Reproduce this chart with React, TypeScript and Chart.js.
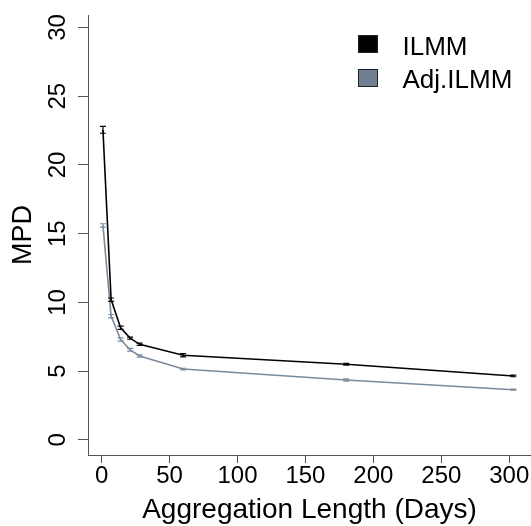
import React, { useEffect, useRef } from "react";
import { Chart, registerables } from "chart.js";

Chart.register(...registerables);

// ---- data ----
const days = [1, 7, 14, 21, 28, 60, 180, 303];
const ilmm = [22.55, 10.2, 8.15, 7.4, 6.95, 6.15, 5.5, 4.65];
const ilmmErr = [0.25, 0.12, 0.12, 0.08, 0.08, 0.12, 0.06, 0.06];
const adjIlmm = [15.6, 9.0, 7.3, 6.55, 6.1, 5.15, 4.35, 3.65];
const adjIlmmErr = [0.12, 0.12, 0.12, 0.1, 0.08, 0.06, 0.08, 0.04];
const xTicks = [0, 50, 100, 150, 200, 250, 300];
const yTicks = [0, 5, 10, 15, 20, 25, 30];
const seriesNames = ["ILMM", "Adj.ILMM"];
const xTitle = "Aggregation Length (Days)";
const yTitle = "MPD";

const FONT = "'Liberation Sans', Arial, sans-serif";
const ILMM_COLOR = "#000000";
const ADJ_COLOR = "#7b8b9b";
const ADJ_FILL = "#6f7f8f";

const errorBarPlugin = {
  id: "errorBars",
  afterDatasetsDraw(chart: any) {
    const ctx = chart.ctx;
    const xs = chart.scales.x;
    const ys = chart.scales.y;
    ctx.save();
    chart.data.datasets.forEach((ds: any) => {
      const errs: number[] = ds.errors || [];
      ctx.strokeStyle = ds.borderColor;
      ctx.lineWidth = 1.2;
      ds.data.forEach((p: any, i: number) => {
        const e = errs[i] || 0;
        const x = xs.getPixelForValue(p.x);
        const yTop = ys.getPixelForValue(p.y + e);
        const yBot = ys.getPixelForValue(p.y - e);
        ctx.beginPath();
        ctx.moveTo(x, yTop);
        ctx.lineTo(x, yBot);
        ctx.moveTo(x - 3, yTop);
        ctx.lineTo(x + 3, yTop);
        ctx.moveTo(x - 3, yBot);
        ctx.lineTo(x + 3, yBot);
        ctx.stroke();
      });
    });
    ctx.restore();
  },
};

const boxLegendPlugin = {
  id: "boxLegend",
  afterDraw(chart: any) {
    const ctx = chart.ctx;
    ctx.save();
    const boxX = 358;
    const tops = [35, 69];
    const baselines = [55, 88];
    chart.data.datasets.forEach((ds: any, i: number) => {
      ctx.fillStyle = ds.legendFill;
      ctx.fillRect(boxX, tops[i], 20, 18);
      ctx.strokeStyle = "#222";
      ctx.lineWidth = 1;
      ctx.strokeRect(boxX + 0.5, tops[i] + 0.5, 19, 17);
      ctx.fillStyle = "#000";
      ctx.font = `26px ${FONT}`;
      ctx.textBaseline = "alphabetic";
      ctx.textAlign = "left";
      ctx.fillText(ds.label, 402.5, baselines[i]);
    });
    ctx.restore();
  },
};

export default function App() {
  const ref = useRef<HTMLCanvasElement | null>(null);

  useEffect(() => {
    if (!ref.current) return;
    const chart = new Chart(ref.current, {
      type: "line",
      data: {
        datasets: [
          {
            label: seriesNames[0],
            data: days.map((d, i) => ({ x: d, y: ilmm[i] })),
            borderColor: ILMM_COLOR,
            backgroundColor: ILMM_COLOR,
            borderWidth: 1.6,
            pointRadius: 0,
            tension: 0,
            errors: ilmmErr,
            legendFill: ILMM_COLOR,
          } as any,
          {
            label: seriesNames[1],
            data: days.map((d, i) => ({ x: d, y: adjIlmm[i] })),
            borderColor: ADJ_COLOR,
            backgroundColor: ADJ_COLOR,
            borderWidth: 1.6,
            pointRadius: 0,
            tension: 0,
            errors: adjIlmmErr,
            legendFill: ADJ_FILL,
          } as any,
        ],
      },
      options: {
        responsive: false,
        animation: false,
        devicePixelRatio: 1,
        layout: { padding: { top: 15, left: 0, right: 0, bottom: 0 } },
        plugins: {
          legend: { display: false },
          tooltip: { enabled: false },
        },
        scales: {
          x: {
            type: "linear",
            min: -10,
            max: 316,
            afterBuildTicks: (scale: any) => {
              scale.ticks = xTicks.map((v) => ({ value: v }));
            },
            afterFit: (scale: any) => {
              scale.height = 71;
              scale.paddingLeft = 0;
              scale.paddingRight = 0;
              scale.paddingTop = 0;
              scale.paddingBottom = 0;
            },
            grid: {
              display: true,
              drawOnChartArea: false,
              drawTicks: true,
              tickLength: 8,
              color: "#555",
              lineWidth: 1,
            },
            border: { display: true, color: "#555", width: 1 },
            ticks: {
              color: "#000",
              padding: 1,
              maxRotation: 0,
              minRotation: 0,
              autoSkip: false,
              font: { family: FONT, size: 24, lineHeight: 1 },
            },
            title: {
              display: true,
              text: xTitle,
              color: "#000",
              font: { family: FONT, size: 28, lineHeight: 1 },
              padding: { top: 0, bottom: 2 },
            },
          },
          y: {
            type: "linear",
            min: -1.1,
            max: 30.9,
            afterBuildTicks: (scale: any) => {
              scale.ticks = yTicks.map((v) => ({ value: v }));
            },
            afterFit: (scale: any) => {
              scale.width = 88;
              scale.paddingLeft = 0;
              scale.paddingRight = 0;
              scale.paddingTop = 0;
              scale.paddingBottom = 0;
            },
            grid: {
              display: true,
              drawOnChartArea: false,
              drawTicks: true,
              tickLength: 10,
              color: "#555",
              lineWidth: 1,
            },
            border: { display: true, color: "#555", width: 1 },
            ticks: {
              color: "#000",
              padding: 6,
              minRotation: 90,
              maxRotation: 90,
              crossAlign: "center",
              autoSkip: false,
              font: { family: FONT, size: 24, lineHeight: 1 },
            },
            title: {
              display: true,
              text: yTitle,
              color: "#000",
              font: { family: FONT, size: 27, lineHeight: 1 },
              padding: { top: 10.5, bottom: 0 },
            },
          },
        },
      } as any,
      plugins: [errorBarPlugin, boxLegendPlugin],
    });
    return () => chart.destroy();
  }, []);

  return (
    <div style={{ position: "absolute", left: 0, top: 0, width: 531, height: 526, background: "#fff" }}>
      <canvas ref={ref} width={531} height={526} style={{ display: "block", width: 531, height: 526 }} />
    </div>
  );
}
